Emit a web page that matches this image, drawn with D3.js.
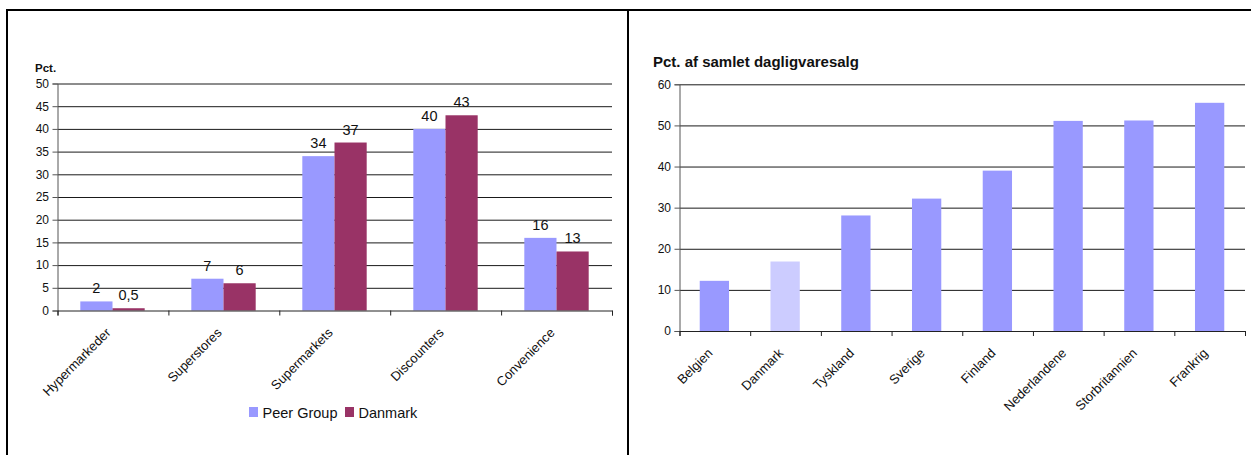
<!DOCTYPE html>
<html><head><meta charset="utf-8">
<script src="https://cdn.jsdelivr.net/npm/d3@7"></script>
<style>
body{margin:0;background:#fff;}
svg{display:block;font-family:"Liberation Sans",Arial,sans-serif;}
</style></head><body>
<svg id="c" width="1251" height="455"></svg>
<script>
// Store formats: share of grocery sales, peer group vs. Denmark
const formats = ["Hypermarkeder", "Superstores", "Supermarkets", "Discounters", "Convenience"];
const seriesNames = ["Peer Group", "Danmark"];
const peerGroup = [2, 7, 34, 40, 16];
const danmark = [0.5, 6, 37, 43, 13];
const formatTicks = [0, 5, 10, 15, 20, 25, 30, 35, 40, 45, 50];

// Discounters' share of total grocery sales by country
const countries = ["Belgien", "Danmark", "Tyskland", "Sverige", "Finland", "Nederlandene", "Storbritannien", "Frankrig"];
const discountShare = [12.2, 16.9, 28.1, 32.2, 39, 51.1, 51.2, 55.5];
const countryTicks = [0, 10, 20, 30, 40, 50, 60];

const svg = d3.select("#c");
const numFmt = v => String(v).replace(".", ",");
const seriesColor = d3.scaleOrdinal(seriesNames, ["#9999FF", "#993366"]);

// ---- frame ----
const frame = svg.append("g").attr("stroke", "#000").attr("stroke-width", 2);
frame.append("line").attr("x1", 6).attr("x2", 1251).attr("y1", 10).attr("y2", 10);
frame.append("line").attr("x1", 7).attr("x2", 7).attr("y1", 9).attr("y2", 455);
frame.append("line").attr("x1", 628).attr("x2", 628).attr("y1", 9).attr("y2", 455);

// gridlines plus a value axis on the left edge of a plot
function gridAndAxis(g, y, ticks, x0, x1, tickLen) {
  g.append("g")
    .attr("transform", `translate(${x0},0)`)
    .call(d3.axisLeft(y).tickValues(ticks.filter(t => t > 0)).tickSize(-(x1 - x0)).tickFormat(""))
    .call(a => a.select(".domain").remove())
    .call(a => a.selectAll("line").attr("stroke", "#1a1a1a").attr("stroke-width", 1));
  g.append("g")
    .attr("transform", `translate(${x0},0)`)
    .call(d3.axisLeft(y).tickValues(ticks).tickSize(tickLen).tickPadding(3.5))
    .call(a => a.select(".domain").attr("stroke", "#555"))
    .call(a => a.selectAll("line").attr("stroke", "#555"))
    .call(a => a.selectAll("text").attr("font-size", 12).attr("fill", "#111")
      .attr("font-family", "Liberation Sans, Arial, sans-serif"));
}

// ---- left chart ----
{
  const L = 57, R = 612, Y0 = 310.5, Y1 = 83.5;
  const g = svg.append("g");
  const x0 = d3.scaleBand(formats, [L, R]).paddingInner(0.42).paddingOuter(0.21);
  const x1 = d3.scaleBand(seriesNames, [0, x0.bandwidth()]);
  const y = d3.scaleLinear([0, 50], [Y0, Y1]);

  gridAndAxis(g, y, formatTicks, L + 0.5, R, 5);

  const rows = formats.map((f, i) => ({ f, vals: [peerGroup[i], danmark[i]] }));
  const grp = g.selectAll(".grp").data(rows).join("g")
    .attr("transform", d => `translate(${x0(d.f)},0)`);
  grp.selectAll("rect").data(d => d.vals.map((v, j) => ({ s: seriesNames[j], v })))
    .join("rect")
    .attr("x", d => x1(d.s)).attr("width", x1.bandwidth())
    .attr("y", d => y(d.v)).attr("height", d => Y0 - y(d.v))
    .attr("fill", d => seriesColor(d.s));
  grp.selectAll("text").data(d => d.vals.map((v, j) => ({ s: seriesNames[j], v })))
    .join("text")
    .attr("x", d => x1(d.s) + x1.bandwidth() / 2)
    .attr("y", d => y(d.v) - 8)
    .attr("text-anchor", "middle").attr("font-size", 14.5).attr("fill", "#111")
    .text(d => numFmt(d.v));

  // category axis with boundary ticks
  const edges = d3.scaleLinear([0, formats.length], [L + 0.5, R]);
  g.append("g").attr("transform", `translate(0,${Y0})`)
    .call(d3.axisBottom(edges).tickValues(d3.range(formats.length + 1)).tickSize(5).tickFormat(""))
    .call(a => a.selectAll("path,line").attr("stroke", "#222"));
  g.selectAll(".cat").data(formats).join("text")
    .attr("transform", d => `translate(${x0(d) + x0.bandwidth() / 2 - 1},${Y0 + 23}) rotate(-45)`)
    .attr("text-anchor", "end").attr("font-size", 13).attr("fill", "#111")
    .text(d => d);

  g.append("text").attr("x", 35).attr("y", 71.5)
    .attr("font-size", 11.5).attr("font-weight", "bold").attr("fill", "#111").text("Pct.");

  // legend
  const leg = g.append("g");
  const lx = [249, 345];
  seriesNames.forEach((s, i) => {
    leg.append("rect").attr("x", lx[i]).attr("y", 407).attr("width", 9).attr("height", 10)
      .attr("fill", seriesColor(s));
    leg.append("text").attr("x", lx[i] + 13.5).attr("y", 417.5)
      .attr("font-size", 14.5).attr("fill", "#111").text(s);
  });
}

// ---- right chart ----
{
  const L = 679, R = 1245, Y0 = 331, Y1 = 84.3;
  const g = svg.append("g");
  const x = d3.scaleBand(countries, [L, R]).paddingInner(0.586).paddingOuter(0.293);
  const y = d3.scaleLinear([0, 60], [Y0, Y1]);

  gridAndAxis(g, y, countryTicks, L + 0.5, R, 5);

  g.selectAll(".bar").data(countries).join("rect")
    .attr("x", d => x(d)).attr("width", x.bandwidth())
    .attr("y", (d, i) => y(discountShare[i]))
    .attr("height", (d, i) => Y0 - y(discountShare[i]))
    .attr("fill", d => d === "Danmark" ? "#CCCCFF" : "#9999FF");

  const edges = d3.scaleLinear([0, countries.length], [L + 0.5, R]);
  g.append("g").attr("transform", `translate(0,${Y0})`)
    .call(d3.axisBottom(edges).tickValues(d3.range(countries.length + 1)).tickSize(5).tickFormat(""))
    .call(a => a.selectAll("path,line").attr("stroke", "#222"));
  g.selectAll(".cat").data(countries).join("text")
    .attr("transform", d => `translate(${x(d) + x.bandwidth() / 2 - 1},${Y0 + 23}) rotate(-45)`)
    .attr("text-anchor", "end").attr("font-size", 13).attr("fill", "#111")
    .text(d => d);

  g.append("text").attr("x", 653).attr("y", 67)
    .attr("font-size", 15).attr("font-weight", "bold").attr("fill", "#111")
    .text("Pct. af samlet dagligvaresalg");
}
</script>
</body></html>
